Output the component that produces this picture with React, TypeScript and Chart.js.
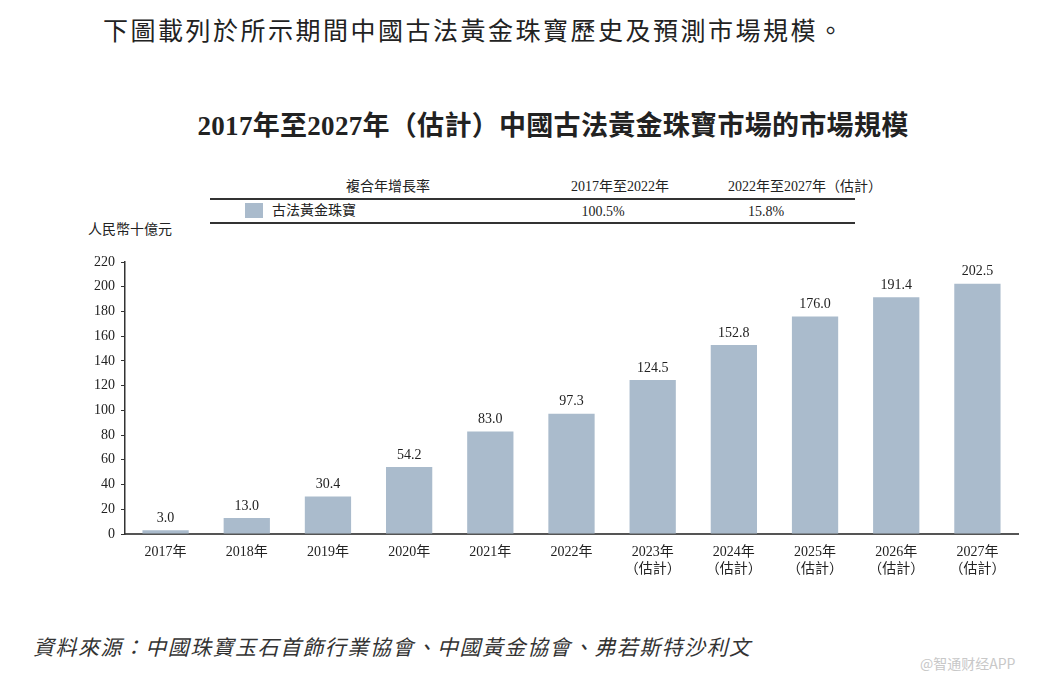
import React, { useEffect, useRef } from "react";
import { Chart, registerables } from "chart.js";

Chart.register(...registerables);

const categories: string[][] = [
  ["2017年"],
  ["2018年"],
  ["2019年"],
  ["2020年"],
  ["2021年"],
  ["2022年"],
  ["2023年", "（估計）"],
  ["2024年", "（估計）"],
  ["2025年", "（估計）"],
  ["2026年", "（估計）"],
  ["2027年", "（估計）"],
];
const marketSize: number[] = [3.0, 13.0, 30.4, 54.2, 83.0, 97.3, 124.5, 152.8, 176.0, 191.4, 202.5];
const seriesName = "古法黃金珠寶";
const cagrHeaders: string[] = ["複合年增長率", "2017年至2022年", "2022年至2027年（估計）"];
const cagrValues: string[] = ["100.5%", "15.8%"];

const FONT = "'Liberation Serif', 'Noto Sans CJK TC', serif";
const BAR = "#aabbcc";
const TEXT = "#222";

const labelPlugin = {
  id: "barLabels",
  afterDatasetsDraw(chart: any) {
    const ctx = chart.ctx;
    const meta = chart.getDatasetMeta(0);
    ctx.save();
    ctx.font = `14px ${FONT}`;
    ctx.fillStyle = TEXT;
    ctx.textAlign = "center";
    ctx.textBaseline = "bottom";
    meta.data.forEach((el: any, i: number) => {
      const v = chart.data.datasets[0].data[i] as number;
      ctx.fillText(v.toFixed(1), el.x, el.y - 5);
    });
    ctx.restore();
  },
};

export default function App() {
  const ref = useRef<HTMLCanvasElement | null>(null);
  useEffect(() => {
    if (!ref.current) return;
    const chart = new Chart(ref.current, {
      type: "bar",
      data: {
        labels: categories,
        datasets: [
          {
            label: seriesName,
            data: marketSize,
            backgroundColor: BAR,
            barPercentage: 0.57,
            categoryPercentage: 1,
          },
        ],
      },
      options: {
        animation: false,
        responsive: true,
        maintainAspectRatio: false,
        layout: { padding: { top: 22, right: 21, left: 0, bottom: 0 } },
        plugins: { legend: { display: false }, tooltip: { enabled: false } },
        scales: {
          x: {
            grid: { display: false },
            border: { color: "#555", width: 2 },
            ticks: { color: TEXT, font: { family: FONT, size: 14 }, padding: 2, maxRotation: 0, autoSkip: false },
            afterFit: (s: any) => {
              s.height = 56;
            },
          },
          y: {
            min: 0,
            max: 220,
            ticks: { stepSize: 20, color: TEXT, font: { family: FONT, size: 14 }, padding: 6 },
            grid: { drawOnChartArea: false, drawTicks: true, tickLength: 4, color: "#333" },
            border: { color: "#333", width: 1.5 },
            afterFit: (s: any) => {
              s.width = 65;
            },
          },
        },
      },
      plugins: [labelPlugin],
    });
    return () => chart.destroy();
  }, []);

  const base: React.CSSProperties = { position: "absolute", fontFamily: FONT, color: TEXT, whiteSpace: "nowrap" };

  return (
    <div style={{ position: "absolute", left: 0, top: 0, width: 1039, height: 681, background: "#fff", overflow: "hidden" }}>
      <div style={{ ...base, left: 103, top: 14, fontSize: 25, letterSpacing: 2.5, lineHeight: "36px" }}>
        下圖載列於所示期間中國古法黃金珠寶歷史及預測市場規模。
      </div>
      <div style={{ ...base, left: 0, width: 1106, top: 108, textAlign: "center", fontSize: 27, fontWeight: "bold", lineHeight: "36px", letterSpacing: 0.3 }}>
        2017年至2027年（估計）中國古法黃金珠寶市場的市場規模
      </div>

      {/* CAGR table */}
      <div style={{ ...base, left: 308, width: 160, textAlign: "center", top: 178, fontSize: 14, lineHeight: "18px" }}>{cagrHeaders[0]}</div>
      <div style={{ ...base, left: 540, width: 160, textAlign: "center", top: 178, fontSize: 14, lineHeight: "18px" }}>{cagrHeaders[1]}</div>
      <div style={{ ...base, left: 705, width: 200, textAlign: "center", top: 178, fontSize: 14, lineHeight: "18px" }}>{cagrHeaders[2]}</div>
      <div style={{ position: "absolute", left: 210, top: 198, width: 645, height: 2, background: "#333" }} />
      <div style={{ position: "absolute", left: 245, top: 203, width: 18, height: 15, background: BAR }} />
      <div style={{ ...base, left: 272, top: 202, fontSize: 14, lineHeight: "18px" }}>{seriesName}</div>
      <div style={{ ...base, left: 543, width: 120, textAlign: "center", top: 203, fontSize: 14, lineHeight: "18px" }}>{cagrValues[0]}</div>
      <div style={{ ...base, left: 706, width: 120, textAlign: "center", top: 203, fontSize: 14, lineHeight: "18px" }}>{cagrValues[1]}</div>
      <div style={{ position: "absolute", left: 210, top: 222, width: 645, height: 2, background: "#333" }} />

      <div style={{ ...base, left: 88, top: 221, fontSize: 14, lineHeight: "18px" }}>人民幣十億元</div>

      <div style={{ position: "absolute", left: 60, top: 240, width: 979, height: 350 }}>
        <canvas ref={ref} />
      </div>

      <div style={{ ...base, left: 33, top: 634, fontSize: 21, fontStyle: "italic", lineHeight: "28px", color: "#333", letterSpacing: 1.45 }}>
        資料來源：中國珠寶玉石首飾行業協會、中國黃金協會、弗若斯特沙利文
      </div>
      <div style={{ ...base, left: 920, top: 654, fontSize: 14, lineHeight: "18px", color: "#c8c8c8", fontFamily: "'Noto Sans CJK SC', sans-serif" }}>
        @智通财经APP
      </div>
    </div>
  );
}
